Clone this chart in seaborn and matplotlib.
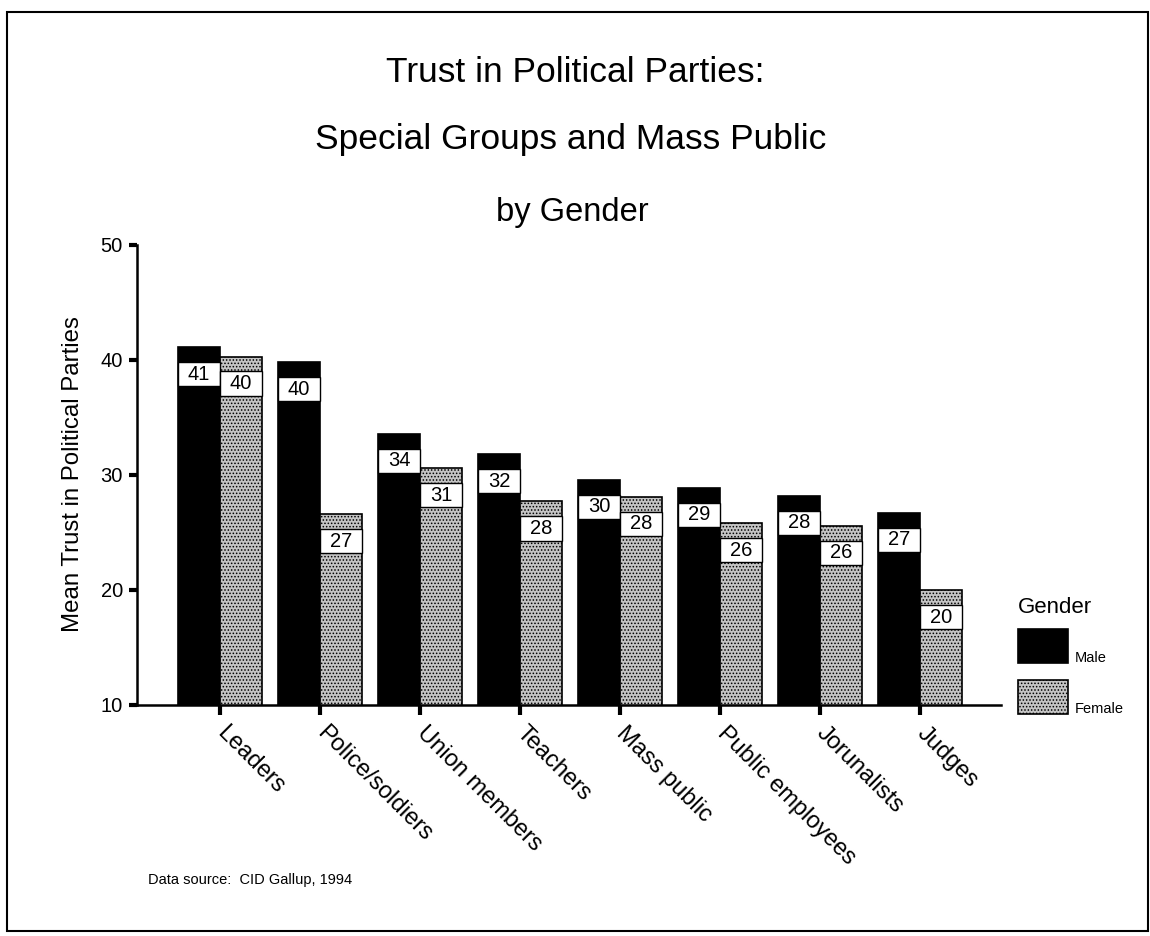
import matplotlib
matplotlib.use("Agg")
import matplotlib.pyplot as plt
from matplotlib.patches import Patch, Rectangle
from matplotlib.legend_handler import HandlerPatch
import pandas as pd
import seaborn as sns

# Mean trust in political parties, by group and gender
groups = ["Leaders", "Police/soldiers", "Union members", "Teachers",
          "Mass public", "Public employees", "Jorunalists", "Judges"]
male = [41.1, 39.8, 33.6, 31.8, 29.6, 28.9, 28.2, 26.7]
female = [40.3, 26.6, 30.6, 27.7, 28.1, 25.8, 25.6, 20.0]
genders = ["Male", "Female"]
y_ticks = [10, 20, 30, 40, 50]

sns.set_theme(style="white")
plt.rcParams["font.family"] = ["Liberation Sans", "DejaVu Sans"]
for key in ("text.color", "axes.labelcolor", "xtick.color", "ytick.color"):
    plt.rcParams[key] = "black"
plt.rcParams["hatch.linewidth"] = 0.7
plt.rcParams["hatch.color"] = "#555555"

df = pd.DataFrame({
    "Group": groups * 2,
    "Gender": ["Male"] * len(groups) + ["Female"] * len(groups),
    "Trust": male + female,
})

fill = {"Male": "#000000", "Female": "#c4c4c4"}
stipple = "....."

fig = plt.figure(figsize=(11.5, 9.36), dpi=100)
ax = fig.add_axes([0.119, 0.2468, 0.751, 0.4915])

sns.barplot(data=df, x="Group", y="Trust", hue="Gender", order=groups,
            hue_order=genders, palette=fill, width=0.84, gap=0,
            edgecolor="black", linewidth=1.2, saturation=1, ax=ax,
            legend=False)

# stippled female bars
for p in ax.containers[1]:
    p.set_hatch(stipple)

# value boxes just under the top of every bar
for cont in ax.containers:
    for p in cont:
        x, w, h = p.get_x(), p.get_width(), p.get_height()
        ax.add_patch(Rectangle((x, h - 3.4), w, 2.1, facecolor="white",
                               edgecolor="black", linewidth=1.0, zorder=3))
        ax.text(x + w / 2, h - 2.35, f"{h:.0f}", ha="center", va="center",
                fontsize=14.5, color="black", zorder=4)

ax.set_ylim(10, 50)
ax.set_xlim(-0.83, 7.8)
ax.set_yticks(y_ticks)
ax.set_yticklabels([str(t) for t in y_ticks], fontsize=14.5)
ax.set_xticks(range(len(groups)))
ax.set_xticklabels(groups, fontsize=17, rotation=-45, ha="left",
                   va="center", rotation_mode="anchor")
ax.set_xlabel("")
ax.set_ylabel("Mean Trust in Political Parties", fontsize=17.3)
ax.yaxis.set_label_coords(-0.061, 0.502)

sns.despine(ax=ax)
for side in ("left", "bottom"):
    ax.spines[side].set_linewidth(1.8)
    ax.spines[side].set_color("black")
ax.tick_params(axis="y", direction="out", length=6, width=3, pad=4,
               left=True)
ax.tick_params(axis="x", direction="out", length=7, width=3, pad=11,
               bottom=True)


# legend swatches sit on the label baseline
def swatch(legend, orig_handle, xdescent, ydescent, width, height, fontsize):
    return Rectangle((-xdescent, -1.0), width, 24.5)


handles = [Patch(facecolor=fill["Male"], edgecolor="black", linewidth=1.2),
           Patch(facecolor=fill["Female"], edgecolor="black", linewidth=1.2,
                 hatch=stipple)]
leg = ax.legend(handles, genders, title="Gender", loc="upper left",
                bbox_to_anchor=(1011 / 1150, 1 - 590 / 936),
                bbox_transform=fig.transFigure, frameon=False, fontsize=10.5,
                title_fontsize=16, handlelength=3.4, handleheight=3.3,
                handletextpad=0.45, labelspacing=1.1, borderpad=0,
                alignment="left",
                handler_map={Patch: HandlerPatch(patch_func=swatch)})
leg._legend_box.sep = 16

fig.text(0.5, 1 - 72 / 936, "Trust in Political Parties:", ha="center",
         va="center", fontsize=25.5)
fig.text(0.496, 1 - 140 / 936, "Special Groups and Mass Public", ha="center",
         va="center", fontsize=25.5)
fig.text(0.498, 1 - 213 / 936, "by Gender", ha="center", va="center",
         fontsize=23.5)
fig.text(148 / 1150, 1 - 880 / 936, "Data source:  CID Gallup, 1994",
         ha="left", va="center", fontsize=10.5)

fig.add_artist(Rectangle((0.006, 0.005), 0.992, 0.982,
                         transform=fig.transFigure, fill=False,
                         edgecolor="black", linewidth=1.5))

fig.savefig("out.png", dpi=100, facecolor="white")
